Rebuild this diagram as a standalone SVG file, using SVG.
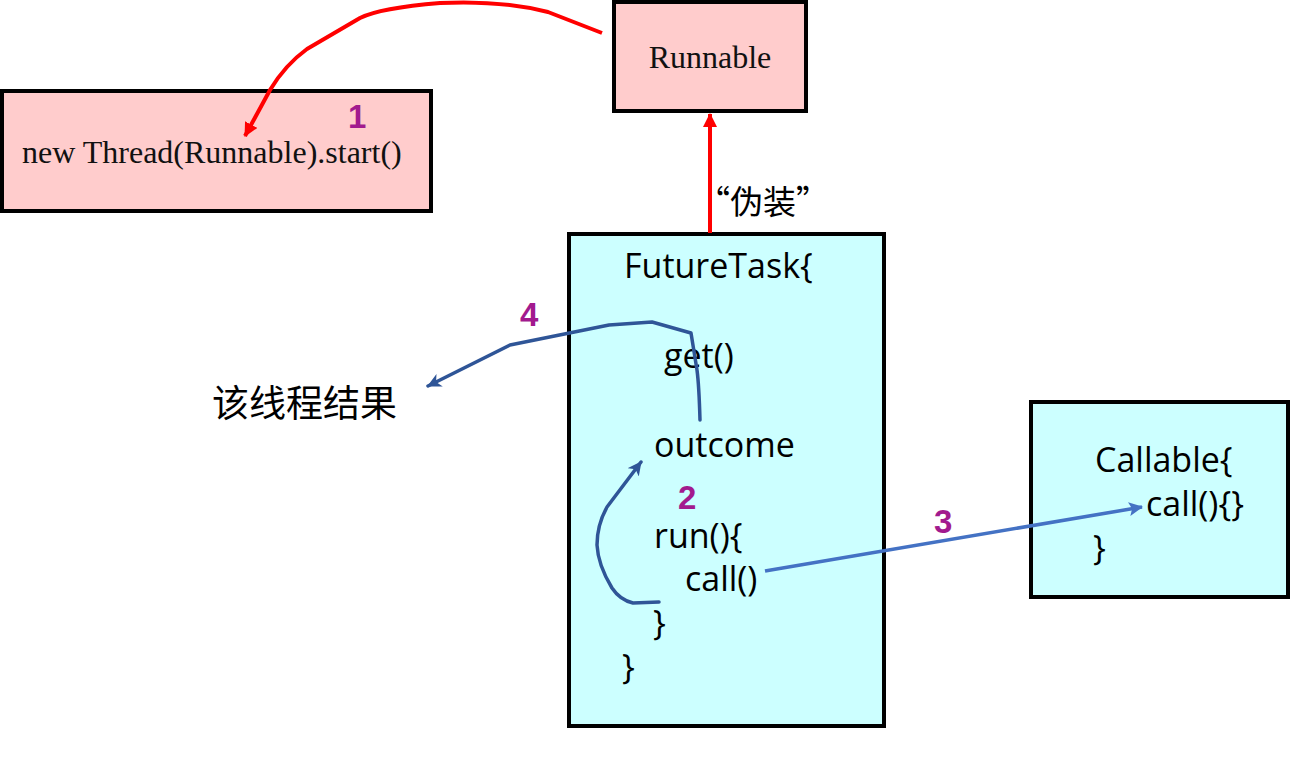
<svg xmlns="http://www.w3.org/2000/svg" width="1291" height="776" viewBox="0 0 1291 776">
<style>
.pink{fill:#FFCCCC;stroke:#000;stroke-width:4}
.cyan{fill:#CCFFFF;stroke:#000;stroke-width:4}
.serif{font-family:"Liberation Serif","Times New Roman",serif;font-size:32px;fill:#111}
.sans{font-family:"Open Sans","Noto Sans","Liberation Sans",sans-serif;font-size:34px;fill:#000}
.cjk{font-family:"Noto Sans CJK SC","Noto Sans",sans-serif;fill:#000}
.num{font-family:"Liberation Sans",Arial,sans-serif;font-weight:bold;font-size:33px;fill:#A21A8E}
.red{fill:none;stroke:#FF0000;stroke-width:4;stroke-linejoin:round}
.dblue{fill:none;stroke:#2F5597;stroke-width:3.5;stroke-linejoin:round;stroke-linecap:round}
.lblue{fill:none;stroke:#4472C4;stroke-width:3.5}
</style>
<defs>
<marker id="ar" markerUnits="userSpaceOnUse" markerWidth="16" markerHeight="16" refX="13" refY="7" orient="auto">
<path d="M0,0 L14,7 L0,14 z" fill="#FF0000"/>
</marker>
<marker id="ad" markerUnits="userSpaceOnUse" markerWidth="16" markerHeight="16" refX="13" refY="7" orient="auto">
<path d="M0,0 L14,7 L0,14 L4,7 z" fill="#2F5597"/>
</marker>
<marker id="al" markerUnits="userSpaceOnUse" markerWidth="16" markerHeight="16" refX="13" refY="7" orient="auto">
<path d="M0,0 L14,7 L0,14 L3,7 z" fill="#4472C4"/>
</marker>
</defs>

<g id="thread">
<rect class="pink" x="2" y="91" width="429" height="120"/>
<text class="serif" x="22" y="163">new Thread(Runnable).start()</text>
<text class="num" x="348" y="128">1</text>
</g>

<g id="runnable">
<rect class="pink" x="614" y="2" width="192" height="109"/>
<text class="serif" x="710" y="68" text-anchor="middle">Runnable</text>
</g>

<g id="futuretask">
<rect class="cyan" x="569" y="234" width="315" height="492"/>
<text class="sans" x="624" y="278">FutureTask{</text>
<text class="sans" x="664" y="368">get()</text>
<text class="sans" x="654" y="457">outcome</text>
<text class="num" x="678" y="509">2</text>
<text class="sans" x="654" y="548">run(){</text>
<text class="sans" x="685" y="591">call()</text>
<text class="sans" x="653" y="635">}</text>
<text class="sans" x="622" y="679">}</text>
</g>

<g id="callable">
<rect class="cyan" x="1031" y="402" width="257" height="195"/>
<text class="sans" x="1095" y="472">Callable{</text>
<text class="sans" x="1146" y="516">call(){}</text>
<text class="sans" x="1093" y="560">}</text>
</g>

<g id="result">
<text class="cjk" x="212" y="417" font-size="37">该线程结果</text>
</g>

<g id="connectors">
<path class="red" d="M602,33 L548,12 Q500,0 440,3 Q380,8 360,18 L307,49 Q285,65 270,90 L245,136" marker-end="url(#ar)"/>
<line class="red" x1="710" y1="233" x2="710" y2="114" marker-end="url(#ar)"/>
<text class="cjk" x="697" y="214" font-size="33">“伪装”</text>
<path class="dblue" d="M659,602 L633,603 Q620,600 612,588 Q598,565 597,545 Q597,525 607,507 L641,462" marker-end="url(#ad)"/>
<path class="dblue" d="M700,420 Q699,385 697,370 L691,333 L652,322 L609,325 L510,345 L428,386" marker-end="url(#ad)"/>
<text class="num" x="520" y="326">4</text>
<line class="lblue" x1="765" y1="571" x2="1142" y2="507" marker-end="url(#al)"/>
<text class="num" x="934" y="533">3</text>
</g>
</svg>
